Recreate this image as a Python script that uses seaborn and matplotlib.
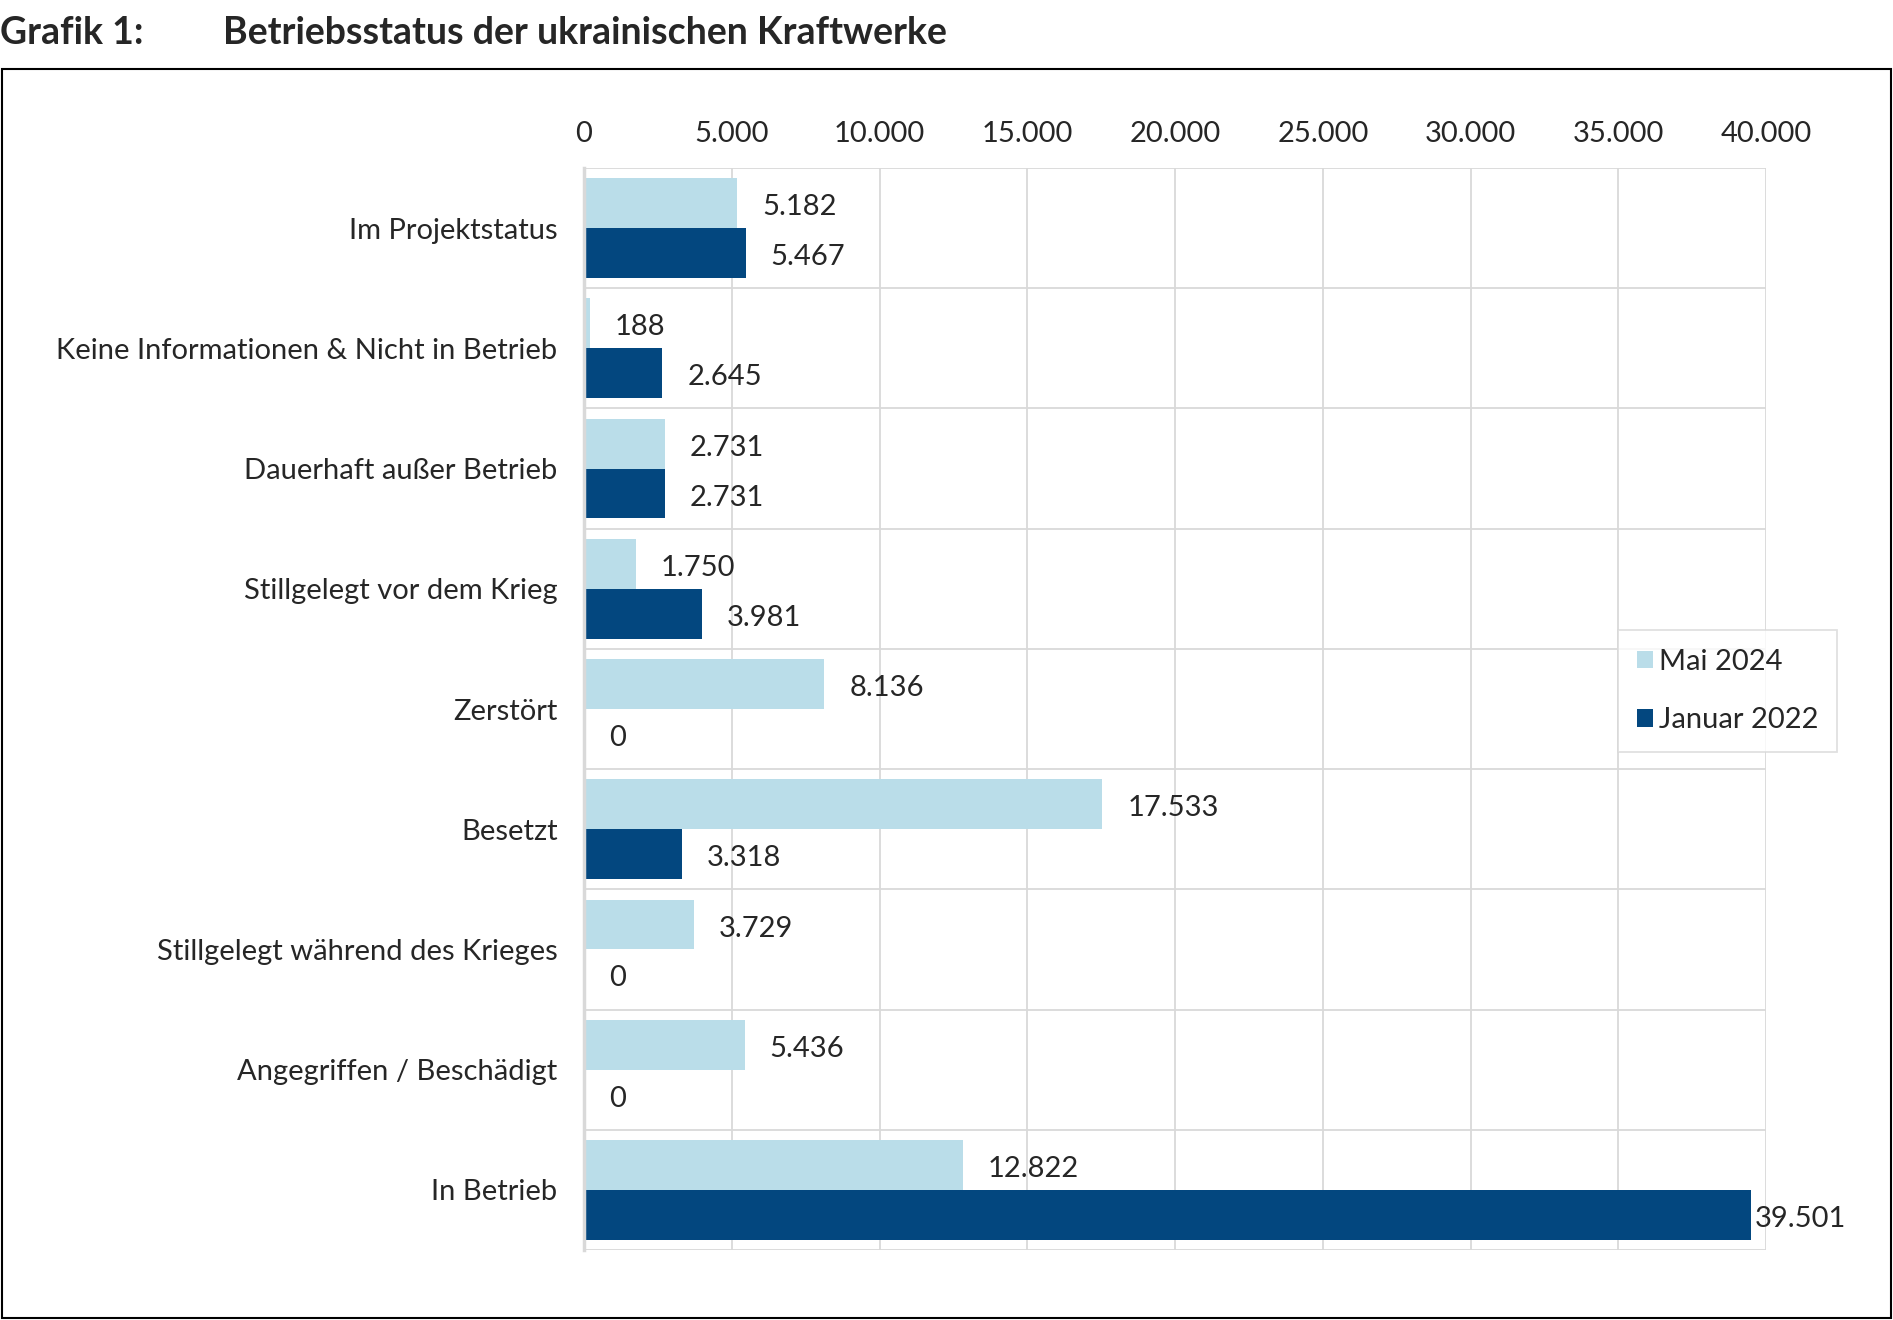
import pandas as pd
import numpy as np
import matplotlib.pyplot as plt
import seaborn as sns
from matplotlib.patches import Rectangle

# --------------------- DATA --------------------- #

categories = ['Im Projektstatus', 'Keine Informationen & Nicht in Betrieb',
              'Dauerhaft außer Betrieb', 'Stillgelegt vor dem Krieg', 'Zerstört',
              'Besetzt', 'Stillgelegt während des Krieges',
              'Angegriffen / Beschädigt', 'In Betrieb']
mai_2024 = [5182, 188, 2731, 1750, 8136, 17533, 3729, 5436, 12822]
januar_2022 = [5467, 2645, 2731, 3981, 0, 3318, 0, 0, 39501]
series_names = ['Mai 2024', 'Januar 2022']
x_ticks = [0, 5000, 10000, 15000, 20000, 25000, 30000, 35000, 40000]

df = pd.DataFrame({
    'Kategorie': categories * 2,
    'Wert': mai_2024 + januar_2022,
    'Zeitraum': [series_names[0]] * len(categories) + [series_names[1]] * len(categories),
})

def de_fmt(v):
    return f'{int(v):,}'.replace(',', '.')

# --------------------- PLOT --------------------- #

sns.set_style('white')
plt.rcParams['font.family'] = ['Lato', 'DejaVu Sans']

fig = plt.figure(figsize=(18.93, 13.20), dpi=100)
ax = fig.add_axes([0.3085, 0.053, 0.6245, 0.8197])

sns.barplot(data=df, y='Kategorie', x='Wert', hue='Zeitraum', orient='h',
            hue_order=series_names, order=categories,
            palette=['#BADDE9', '#03477F'], width=0.83, saturation=1,
            edgecolor='none', ax=ax)

ax.set_xlim(0, 40000)
ax.set_ylim(len(categories) - 0.5, -0.5)
ax.xaxis.tick_top()
ax.set_xticks(x_ticks)
ax.set_xticklabels([de_fmt(t) for t in x_ticks])
ax.tick_params(axis='x', length=0, pad=15, labelsize=21)
ax.tick_params(axis='y', which='major', length=0, pad=19, labelsize=21)
ax.set_xlabel('')
ax.set_ylabel('')

# category separators
ax.set_yticks(np.arange(-0.5, len(categories), 1), minor=True)
ax.tick_params(axis='y', which='minor', length=6, width=2, color='#d9d9d9')
ax.grid(axis='x', color='#d9d9d9', linewidth=1.3)
ax.grid(axis='y', which='minor', color='#d9d9d9', linewidth=1.3)
ax.grid(axis='y', which='major', visible=False)
ax.set_axisbelow(True)

for s in ['top', 'right', 'bottom']:
    ax.spines[s].set_visible(False)
ax.spines['left'].set_color('#d9d9d9')
ax.spines['left'].set_linewidth(2.5)

# value labels
for cont in ax.containers:
    for bar in cont:
        v = bar.get_width()
        pad = 3 if v > 35000 else 25
        ax.annotate(de_fmt(v), (v, bar.get_y() + bar.get_height() / 2),
                    xytext=(pad, -4), textcoords='offset pixels',
                    ha='left', va='center', fontsize=21)

leg = ax.legend(loc='upper left', bbox_to_anchor=(0.8547, 0.5227),
                bbox_transform=fig.transFigure, fontsize=21, frameon=True,
                fancybox=False, edgecolor='#d9d9d9', handlelength=0.55,
                handleheight=0.55, handletextpad=0.2, labelspacing=1.1,
                borderpad=0.65, borderaxespad=0, title=None)
leg.get_frame().set_linewidth(1.3)

# title and outer frame
fig.text(0.0, 0.975, 'Grafik 1:', fontsize=27, fontweight='bold', va='center', ha='left')
fig.text(0.1178, 0.975, 'Betriebsstatus der ukrainischen Kraftwerke',
         fontsize=27, fontweight='bold', va='center', ha='left')
fig.patches.append(Rectangle((0.0008, 0.0015), 0.998, 0.946, transform=fig.transFigure,
                             fill=False, edgecolor='black', linewidth=1.5))

plt.savefig('out.png', dpi=100)
